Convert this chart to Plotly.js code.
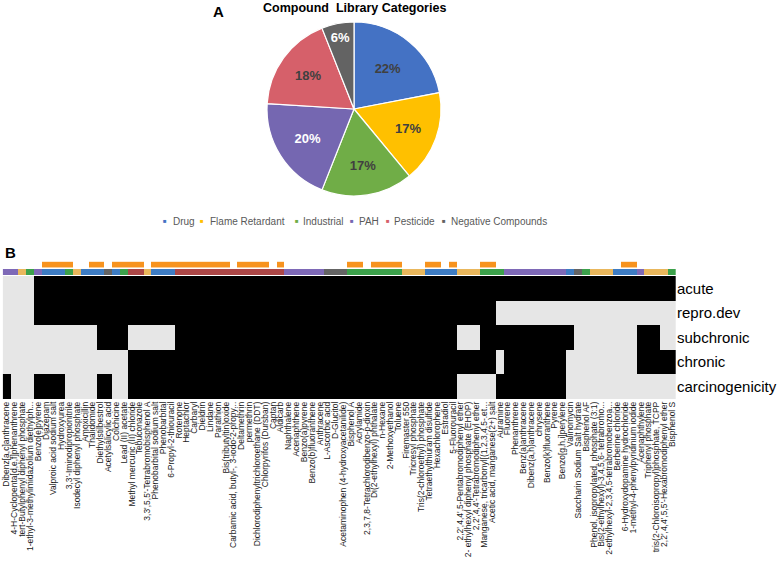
<!DOCTYPE html>
<html><head><meta charset="utf-8">
<script src="https://cdn.plot.ly/plotly-3.0.1.min.js"></script>
<style>html,body{margin:0;padding:0;background:#fff;} #chart{width:780px;height:561px;}</style>
</head><body><div id="chart"></div>
<script>
// ---- Panel A: pie ----
const pieLabels = ["Drug","Flame Retardant","Industrial","PAH","Pesticide","Negative Compounds"];
const pieValues = [22,17,17,20,18,6];
const pieColors = ["#4472C4","#FFC000","#70AD47","#7567B1","#D6606A","#636363"];
const pieTextColors = ["#404040","#404040","#404040","#ffffff","#404040","#ffffff"];

// ---- Panel B: heatmap ----
const compounds = [
"Dibenz[a,c]anthracene","4-H-Cyclopenta[d,e,f]phenanthrene","tert-Butylphenyl diphenyl phosphate","1-ethyl-3-methylimidazolium diethylph...","Benzo[e]pyrene",
"Diazepam","Valproic acid sodium salt","Hydroxyurea","3,3'-Iminodipropionitrile","Isodecyl diphenyl phosphate",
"Amoxicillin","Thalidomide","Diethylstilbestrol","Acetylsalicylic acid","Colchicine",
"Lead (II) acetate","Methyl mercuric (II) chloride","Tebuconazole","3,3',5,5'-Tetrabromobisphenol A","Phenobarbital sodium salt",
"Phenobarbital","6-Propyl-2-thiouracil","Rotenone","Heptachlor","Carbaryl",
"Dieldrin","Lindane","Parathion","Bis(tributyltin)oxide","Carbamic acid, butyl-, 3-iodo-2-propy...",
"Deltamethrin","permethrin","Dichlorodiphenyltrichloroethane (DDT)","Chlorpyrifos (Dursban)","Captan",
"Aldicarb","Naphthalene","Acenaphthene","Benzo(a)pyrene","Benzo(b)fluoranthene",
"Anthracene","L-Ascorbic acid","D-Glucitol","Acetaminophen (4-hydroxyacetanilide)","Bisphenol A",
"Acrylamide","2,3,7,8-Tetrachlorodibenzo-p-dioxin","Di(2-ethylhexyl) phthalate","n-Hexane","2-Methoxyethanol",
"Toluene","Firemaster 550","Tricresyl phosphate","Tris(2-chloroethyl) phosphate","Tetraethylthiuram disulfide",
"Hexachlorophene","Estradiol","5-Fluorouracil","2,2',4,4',5-Pentabromodiphenyl ether","2- ethylhexyl diphenyl phosphate (EHDP)",
"2,2',4,4'-Tetrabromodiphenyl ether","Manganese, tricarbonyl[(1,2,3,4,5-.et...","Acetic acid, manganese(2+) salt","Auramine","Fluorene",
"Phenanthrene","Benz(a)anthracene","Dibenz(a,h)anthracene","chrysene","Benzo(k)fluoranthene",
"Pyrene","Benzo[g,h,i]perylene","Valinomycin","Saccharin Sodium Salt hydrate","Bisphenol AF",
"Phenol, isopropylated, phosphate (3:1)","Bis(2-ethylhexyl)-3,4,5,6- tetrabromo...","2-ethylhexyl-2,3,4,5-tetrabromobenzoa...","Berberine chloride","6-Hydroxydopamine hydrochloride",
"1-methyl-4-phenylpyridinium iodide","Acenaphthylene","Triphenyl phosphate","tris(2-Chloroisopropyl)phosphate, TCPP","2,2',4,4',5,5'-Hexabromodiphenyl ether",
"Bisphenol S"
];
const compoundCategories = [
"PAH","PAH","Flame Retardant","Industrial","PAH",
"Drug","Drug","Drug","Industrial","Flame Retardant",
"Drug","Drug","Drug","Negative Compounds","Drug",
"Industrial","Pesticide","Pesticide","Flame Retardant","Drug",
"Drug","Drug","Pesticide","Pesticide","Pesticide",
"Pesticide","Pesticide","Pesticide","Pesticide","Pesticide",
"Pesticide","Pesticide","Pesticide","Pesticide","Pesticide",
"Pesticide","PAH","PAH","PAH","PAH",
"PAH","Negative Compounds","Negative Compounds","Negative Compounds","Industrial",
"Industrial","Industrial","Industrial","Industrial","Industrial",
"Industrial","Flame Retardant","Flame Retardant","Flame Retardant","Drug",
"Drug","Drug","Drug","Flame Retardant","Flame Retardant",
"Flame Retardant","Industrial","Industrial","Industrial","PAH",
"PAH","PAH","PAH","PAH","PAH",
"PAH","PAH","Drug","Negative Compounds","Industrial",
"Flame Retardant","Flame Retardant","Flame Retardant","Drug","Drug",
"Drug","PAH","Flame Retardant","Flame Retardant","Flame Retardant",
"Industrial"
];
const orangeFlag = [
0,0,0,0,0, 1,1,1,1,0,
0,1,1,0,1, 1,1,1,0,1,
1,1,1,1,1, 1,1,1,1,0,
1,1,1,1,0, 1,0,0,0,0,
0,0,0,0,1, 1,0,1,1,1,
1,0,0,0,1, 1,0,1,0,0,
0,1,1,0,0, 0,0,0,0,0,
0,0,0,0,0, 0,0,0,0,1,
1,0,0,0,0, 0
];
const endpoints = ["acute","repro.dev","subchronic","chronic","carcinogenicity"];
const acute = [
0,0,0,0,1,1,1,1,1,1, 1,1,1,1,1,1,1,1,1,1, 1,1,1,1,1,1,1,1,1,1, 1,1,1,1,1,1,1,1,1,1,
1,1,1,1,1,1,1,1,1,1, 1,1,1,1,1,1,1,1,1,1, 1,1,1,1,1,1,1,1,1,1, 1,1,1,1,1,1,1,1,1,1, 1,1,1,1,1,1
];
const reproDev = [
0,0,0,0,1,1,1,1,1,1, 1,1,1,1,1,1,1,1,1,1, 1,1,1,1,1,1,1,1,1,1, 1,1,1,1,1,1,1,1,1,1,
1,1,1,1,1,1,1,1,1,1, 1,1,1,1,1,1,1,1,1,1, 1,1,1,0,0,0,0,0,0,0, 0,0,0,0,0,0,0,0,0,0, 0,0,0,0,0,0
];
const subchronic = [
0,0,0,0,0,0,0,0,0,0, 0,0,1,1,1,1,0,0,0,0, 0,0,1,1,1,1,1,1,1,1, 1,1,1,1,1,1,1,1,1,1,
1,1,1,1,1,1,1,1,1,1, 1,1,1,1,1,1,1,1,0,0, 0,1,1,1,1,1,1,1,1,1, 1,1,1,0,0,0,0,0,0,0, 0,1,1,1,0,0
];
const chronic = [
0,0,0,0,0,0,0,0,0,0, 0,0,0,0,0,0,1,1,1,1, 1,1,1,1,1,1,1,1,1,1, 1,1,1,1,1,1,1,1,1,1,
1,1,1,1,1,1,1,1,1,1, 1,1,1,1,1,1,1,1,1,1, 1,1,1,0,1,1,1,1,1,1, 1,1,0,0,0,0,0,0,0,0, 0,1,1,1,1,1
];
const carcinogenicity = [
1,0,0,0,1,1,1,1,0,0, 0,0,1,1,0,0,1,1,1,1, 1,1,1,1,1,1,1,1,1,1, 1,1,1,1,1,1,1,1,1,1,
1,1,1,1,1,1,1,1,1,1, 1,1,1,1,1,1,1,1,0,0, 0,0,0,1,1,1,1,1,1,1, 1,1,0,0,0,0,0,0,0,0, 0,0,0,0,0,0
];
const stripColors = ["#3D7CC3","#E9B75C","#3CA14B","#7E69B7","#AC4747","#646464"];

// ---- build ----
const font = "Liberation Sans, Arial, sans-serif";
const catIndex = compoundCategories.map(c => pieLabels.indexOf(c));
const n = stripColors.length;
const stripScale = stripColors.map((c,i) => [i/(n-1), c]);

const traces = [
  {
    type: "pie", labels: pieLabels, values: pieValues, sort: false,
    direction: "clockwise", rotation: 0,
    domain: {x: [0.3423, 0.5654], y: [0.6506, 0.9608]},
    marker: {colors: pieColors, line: {color: "#ffffff", width: 1.2}},
    texttemplate: "%{value}%", textposition: "inside", insidetextorientation: "horizontal",
    textfont: {family: font, size: 13, color: pieTextColors, weight: "bold"},
    showlegend: false, hoverinfo: "label+percent"
  },
  {
    type: "heatmap", x: compounds, y: endpoints,
    z: [acute, reproDev, subchronic, chronic, carcinogenicity],
    zmin: 0, zmax: 1, colorscale: [[0, "#E6E6E6"], [1, "#000000"]],
    showscale: false, xaxis: "x", yaxis: "y"
  },
  {
    type: "heatmap", x: compounds, y: ["category"], z: [catIndex],
    zmin: 0, zmax: n-1, colorscale: stripScale, showscale: false,
    text: [compoundCategories], hoverinfo: "x+text",
    xaxis: "x", yaxis: "y2"
  },
  {
    type: "heatmap", x: compounds, y: ["flag"], z: [orangeFlag.map(v => v ? 1 : null)],
    zmin: 0, zmax: 1, colorscale: [[0, "#F7931E"], [1, "#F7931E"]], showscale: false,
    xaxis: "x", yaxis: "y3"
  }
];

const legendItems = [
  {t: "Drug", sx: 164.5, tx: 170.5},
  {t: "Flame Retardant", sx: 202, tx: 208},
  {t: "Industrial", sx: 296.5, tx: 300.5},
  {t: "PAH", sx: 352, tx: 357},
  {t: "Pesticide", sx: 387.5, tx: 392},
  {t: "Negative Compounds", sx: 444, tx: 449}
];
const annotations = [
  {text: "<b>A</b>", x: 211, y: 11, font: {family: font, size: 15, color: "#000"}},
  {text: "<b>Compound  Library Categories</b>", x: 354.5, y: 8.5, xanchor: "center", font: {family: font, size: 12.5, color: "#000"}},
  {text: "<b>B</b>", x: 2.5, y: 252, font: {family: font, size: 15, color: "#000"}}
];
legendItems.forEach((it, i) => {
  annotations.push({text: "■", x: it.sx, y: 221.5, xanchor: "center", font: {family: font, size: 6, color: pieColors[i]}});
  annotations.push({text: it.t, x: it.tx, y: 221.5, font: {family: font, size: 10, color: "#595959"}});
});
annotations.forEach(a => {
  a.xref = "paper"; a.yref = "paper";
  a.x = a.x / 780; a.y = 1 - a.y / 561;
  if (!a.xanchor) a.xanchor = "left";
  a.yanchor = "middle"; a.showarrow = false;
});

const layout = {
  width: 780, height: 561,
  margin: {l: 0, r: 0, t: 0, b: 0},
  paper_bgcolor: "#ffffff", plot_bgcolor: "rgba(0,0,0,0)",
  showlegend: false,
  xaxis: {
    domain: [2.7/780, 676/780], anchor: "y",
    tickmode: "array", tickvals: compounds, ticktext: compounds,
    tickangle: -90, tickfont: {family: font, size: 8.5, color: "#1a1a1a"},
    ticks: "", showgrid: false, zeroline: false, showline: false, automargin: false
  },
  yaxis: {
    domain: [1 - 399/561, 1 - 276/561], anchor: "x", side: "right",
    autorange: "reversed", tickfont: {family: font, size: 15, color: "#000"},
    ticks: "", showgrid: false, zeroline: false, showline: false, automargin: false
  },
  yaxis2: {
    domain: [1 - 275/561, 1 - 269/561], anchor: "x",
    showticklabels: false, ticks: "", showgrid: false, zeroline: false, showline: false
  },
  yaxis3: {
    domain: [1 - 267.8/561, 1 - 261.6/561], anchor: "x",
    showticklabels: false, ticks: "", showgrid: false, zeroline: false, showline: false
  },
  annotations: annotations
};

Plotly.newPlot("chart", traces, layout, {displayModeBar: false, staticPlot: true});
</script>
</body></html>
